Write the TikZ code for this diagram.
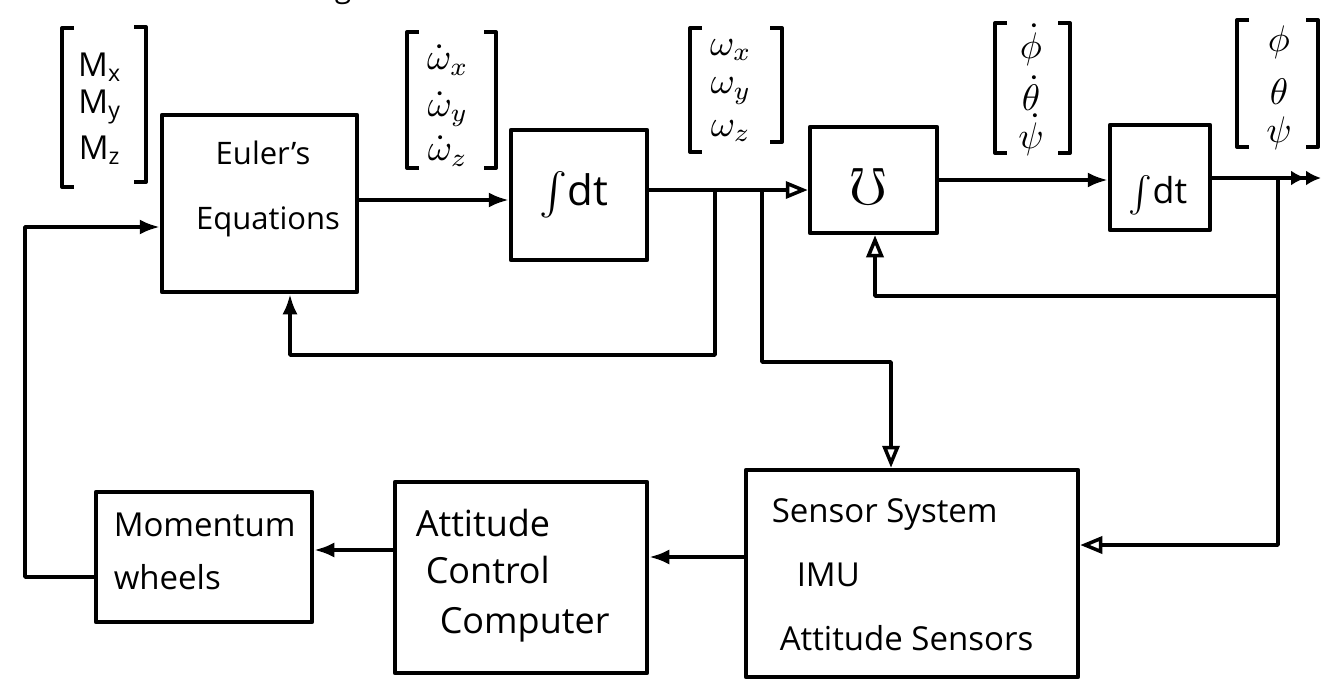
\documentclass[tikz,border=0pt]{standalone}
\usepackage{amsmath,amssymb}
\usepackage{fontspec}
\setmainfont{Open Sans}
\usetikzlibrary{arrows.meta}
\begin{document}
\begin{tikzpicture}[x=1pt,y=-1pt, line width=3.5pt, line cap=round, line join=round,
  box/.style={draw, line width=4.5pt, inner sep=0pt},
  arr/.style={-{Latex[length=20pt,width=15pt]}},
  oarr/.style={-{Triangle[open,length=22pt,width=17pt,line width=3.5pt]}},
  dblarr/.style={-{Latex[length=15pt,width=15pt]Latex[length=15pt,width=15pt]}},
  brk/.style={line width=4pt, line cap=butt},
  lbl/.style={font=\fontsize{33}{40}\selectfont, inner sep=0pt, anchor=west},
  eul/.style={font=\fontsize{31}{36}\selectfont, inner sep=0pt},
  ent/.style={scale=3.3, inner sep=0pt},
  gent/.style={scale=3.7, inner sep=0pt},
  sym/.style={scale=4.2, inner sep=0pt}]
\useasboundingbox (0,0) rectangle (1323,681);

% partial title fragment (cut by the top edge)
\node[font=\fontsize{30}{36}\selectfont, inner sep=0pt, anchor=base] (gfrag) at (343,-3) {g};

% blocks
\node[box, minimum width=195pt, minimum height=177pt] (euler) at (259.5,203.5) {};
\node[eul] (eul1) at (263,153) {Euler's};
\node[eul] (eul2) at (268,222) {Equations};

\node[box, minimum width=136pt, minimum height=130pt] (sdt1) at (579,195) {};
\node[sym] (sdt1t) at (574,195) {$\int\!\mathrm{dt}$};

\node[box, minimum width=127pt, minimum height=106pt] (ups) at (873.5,180) {};
\node[sym, scale=1.25] (upst) at (868,186) {$\boldsymbol{\mho}$};

\node[box, minimum width=100pt, minimum height=105pt] (sdt2) at (1160,177.5) {};
\node[sym, scale=0.85] (sdt2t) at (1158,195) {$\int\!\mathrm{dt}$};

\node[box, minimum width=216pt, minimum height=130pt] (mom) at (204,557) {};
\node[lbl] (mom1) at (112,525) {Momentum};
\node[lbl] (mom2) at (112,577) {wheels};

\node[box, minimum width=252pt, minimum height=191pt] (att) at (521,577.5) {};
\node[lbl, font=\fontsize{36}{42}\selectfont] (att1) at (414,523) {Attitude};
\node[lbl, font=\fontsize{36}{42}\selectfont] (att2) at (424,570) {Control};
\node[lbl, font=\fontsize{36}{42}\selectfont] (att3) at (438,625) {Computer};

\node[box, minimum width=332pt, minimum height=207pt] (sen) at (912,573.5) {};
\node[lbl] (sen1) at (770,515) {Sensor System};
\node[lbl] (sen2) at (795,575) {IMU};
\node[lbl] (sen3) at (778,638) {Attitude Sensors};

% vectors (brackets + entries)
\draw[brk] (74,28) -- (62,28) -- (62,187) -- (74,187);
\draw[brk] (134,27) -- (146,27) -- (146,182) -- (134,182);
\node[ent] (mx) at (100,67) {M\textsubscript{x}};
\node[ent] (my) at (100,107) {M\textsubscript{y}};
\node[ent] (mz) at (100,150) {M\textsubscript{z}};

\draw[brk] (419,32) -- (407,32) -- (407,168) -- (419,168);
\draw[brk] (484,32) -- (496,32) -- (496,168) -- (484,168);
\node[gent] (wdx) at (448,60) {$\dot{\omega}_x$};
\node[gent] (wdy) at (448,109) {$\dot{\omega}_y$};
\node[gent] (wdz) at (448,151) {$\dot{\omega}_z$};

\draw[brk] (702,28) -- (690,28) -- (690,152) -- (702,152);
\draw[brk] (770,28) -- (782,28) -- (782,142) -- (770,142);
\node[gent] (wx) at (731,50) {$\omega_x$};
\node[gent] (wy) at (731,91) {$\omega_y$};
\node[gent] (wz) at (731,131) {$\omega_z$};

\draw[brk] (1007,23) -- (995,23) -- (995,153) -- (1007,153);
\draw[brk] (1058,23) -- (1070,23) -- (1070,153) -- (1058,153);
\node[gent] (pd) at (1031,45) {$\dot{\phi}$};
\node[gent] (td) at (1031,93) {$\dot{\theta}$};
\node[gent] (sd) at (1031,135) {$\dot{\psi}$};

\draw[brk] (1249,20) -- (1237,20) -- (1237,147) -- (1249,147);
\draw[brk] (1306,20) -- (1318,20) -- (1318,147) -- (1306,147);
\node[gent] (ph) at (1279,42) {$\phi$};
\node[gent] (th) at (1279,92) {$\theta$};
\node[gent] (ps) at (1279,133) {$\psi$};

% junction coordinates
\coordinate (a1) at (420,200);
\coordinate (j1) at (715,190);
\coordinate (j1b) at (715,355);
\coordinate (j1c) at (290,355);
\coordinate (j2) at (762,190);
\coordinate (j2b) at (762,362);
\coordinate (j2c) at (891,362);
\coordinate (a2) at (1000,180);
\coordinate (r1) at (1278,178);
\coordinate (r2) at (1278,296);
\coordinate (r3) at (875,296);
\coordinate (r4) at (1278,545);
\coordinate (out) at (1321,178);
\coordinate (a3) at (700,557);
\coordinate (a4) at (350,550);
\coordinate (l1) at (25,577);
\coordinate (l2) at (25,227);

% connectors
\draw[arr] (euler.east |- a1) -- (sdt1.west |- a1);
\draw[oarr] (sdt1.east |- j1) -- (ups.west |- j1);
\draw[arr] (j1) -- (j1b) -- (j1c) -- (euler.south -| j1c);
\draw[oarr] (j2) -- (j2b) -- (j2c) -- (sen.north -| j2c);
\draw[arr] (ups.east |- a2) -- (sdt2.west |- a2);
\draw[dblarr] (sdt2.east |- r1) -- (out);
\draw[oarr] (r1) -- (r4) -- (sen.east |- r4);
\draw[oarr] (r2) -- (r3) -- (ups.south -| r3);
\draw[arr] (sen.west |- a3) -- (att.east |- a3);
\draw[arr] (att.west |- a4) -- (mom.east |- a4);
\draw[arr] (mom.west |- l1) -- (l1) -- (l2) -- (euler.west |- l2);
\end{tikzpicture}
\end{document}
